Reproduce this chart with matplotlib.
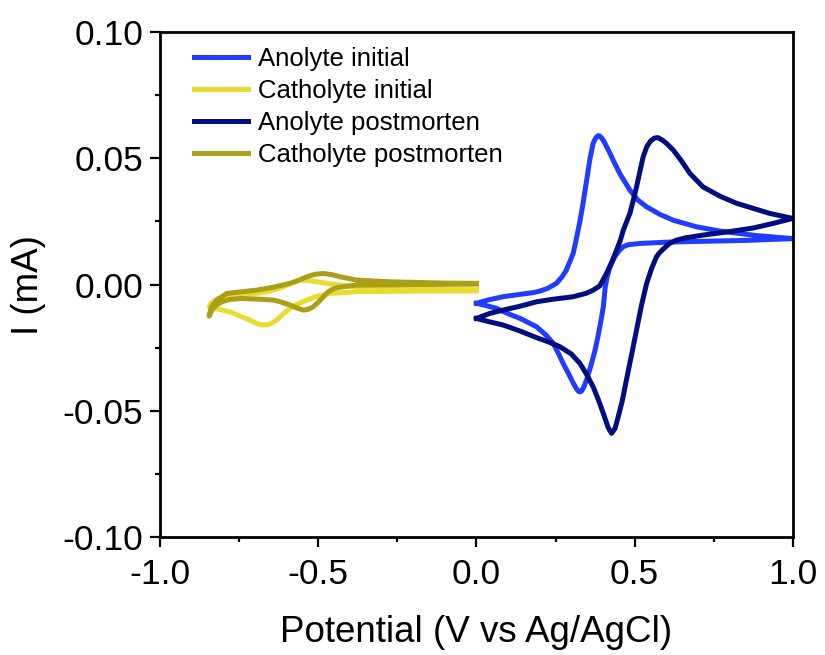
import matplotlib
matplotlib.use('Agg')
import matplotlib.pyplot as plt
from matplotlib.ticker import MultipleLocator

plt.rcParams['font.family'] = ['Liberation Sans', 'DejaVu Sans']

# Anolyte initial (blue): one closed CV loop
an_init_E = [0.0, 0.04, 0.084, 0.13, 0.178, 0.20, 0.225, 0.253, 0.27, 0.284, 0.295, 0.306, 0.317, 0.327,
             0.337, 0.348, 0.359, 0.369, 0.378, 0.385, 0.390, 0.396, 0.404, 0.412, 0.422, 0.437, 0.453,
             0.47, 0.485, 0.51, 0.538, 0.58, 0.622, 0.695, 0.77, 0.88, 1.0,
             0.85, 0.70, 0.60, 0.517, 0.48, 0.464, 0.453, 0.437, 0.422, 0.414, 0.407, 0.401, 0.394,
             0.385, 0.375, 0.362, 0.348, 0.338, 0.331, 0.327, 0.322, 0.315, 0.306, 0.29, 0.274, 0.258,
             0.243, 0.22, 0.19, 0.14, 0.10, 0.063, 0.03, 0.0]
an_init_I = [-0.0074, -0.0060, -0.0048, -0.0040, -0.0032, -0.0026, -0.0015, 0.0005, 0.0030, 0.0057,
             0.0090, 0.0124, 0.0189, 0.0250, 0.0322, 0.0410, 0.0500, 0.0560, 0.0583, 0.0590, 0.0588,
             0.0580, 0.0565, 0.0545, 0.0520, 0.0480, 0.0440, 0.0405, 0.0374, 0.0335, 0.0308, 0.0278,
             0.0255, 0.0229, 0.0212, 0.0195, 0.0182,
             0.0175, 0.0171, 0.0168, 0.0163, 0.0158, 0.0150, 0.0137, 0.0110, 0.0070, 0.0035, -0.0010,
             -0.0088, -0.0140, -0.0200, -0.0260, -0.0320, -0.0378, -0.0410, -0.0423, -0.0425, -0.0422,
             -0.0410, -0.0390, -0.0350, -0.0312, -0.0270, -0.0233, -0.0200, -0.0167, -0.0135, -0.0115,
             -0.0094, -0.0083, -0.0074]

# Catholyte initial (yellow)
ca_init_E = [0.0, -0.2, -0.379, -0.463, -0.50, -0.536, -0.565, -0.589, -0.612, -0.631, -0.645, -0.660,
             -0.674, -0.688, -0.702, -0.716, -0.75, -0.779, -0.81, -0.832, -0.845, -0.838, -0.82, -0.80,
             -0.75, -0.695, -0.65, -0.611, -0.58, -0.558, -0.53, -0.505, -0.431, -0.327, -0.2, 0.0]
ca_init_I = [-0.0025, -0.0026, -0.0028, -0.0035, -0.0045, -0.0061, -0.0077, -0.0094, -0.0117, -0.0140,
             -0.0152, -0.0159, -0.0160, -0.0157, -0.0150, -0.0141, -0.0123, -0.0108, -0.0099, -0.0094,
             -0.0088, -0.0072, -0.0058, -0.0048, -0.0040, -0.0035, -0.0025, -0.0009, 0.0008, 0.0018,
             0.0016, 0.0011, -0.0002, -0.0015, -0.0018, -0.0020]

# Anolyte postmorten (navy)
an_post_E = [0.0, 0.04, 0.084, 0.14, 0.19, 0.242, 0.306, 0.348, 0.369, 0.39, 0.411, 0.428, 0.443, 0.455,
             0.464, 0.475, 0.485, 0.496, 0.506, 0.517, 0.527, 0.538, 0.55, 0.562, 0.574, 0.588, 0.60,
             0.622, 0.648, 0.675, 0.716, 0.77, 0.822, 0.927, 1.0,
             0.93, 0.874, 0.80, 0.716, 0.66, 0.632, 0.61, 0.59, 0.578, 0.569, 0.554, 0.538, 0.522, 0.506,
             0.490, 0.474, 0.461, 0.448, 0.438, 0.427, 0.416, 0.401, 0.385, 0.369, 0.348, 0.327, 0.30,
             0.264, 0.23, 0.19, 0.14, 0.084, 0.04, 0.0]
an_post_I = [-0.0134, -0.0115, -0.0101, -0.0085, -0.0068, -0.0058, -0.0048, -0.0034, -0.0022, -0.0005,
             0.0044, 0.0090, 0.0137, 0.0176, 0.0215, 0.0250, 0.0282, 0.0335, 0.0387, 0.0450, 0.0506,
             0.0545, 0.0568, 0.0580, 0.0582, 0.0572, 0.0560, 0.0533, 0.0490, 0.0440, 0.0387, 0.0350,
             0.0322, 0.0282, 0.0262,
             0.0240, 0.0224, 0.0210, 0.0196, 0.0185, 0.0176, 0.0163, 0.0140, 0.0125, 0.0110, 0.0065,
             0.0005, -0.0080, -0.0180, -0.0280, -0.0378, -0.0460, -0.0524, -0.0570, -0.0589, -0.0565,
             -0.0510, -0.0455, -0.0405, -0.0355, -0.0312, -0.0275, -0.0246, -0.0228, -0.0210, -0.0185,
             -0.0160, -0.0147, -0.0134]

# Catholyte postmorten (olive)
ca_post_E = [0.0, -0.2, -0.379, -0.43, -0.453, -0.47, -0.484, -0.50, -0.516, -0.532, -0.547, -0.565,
             -0.589, -0.62, -0.642, -0.70, -0.747, -0.78, -0.80, -0.82, -0.835, -0.845, -0.838, -0.821,
             -0.789, -0.74, -0.695, -0.64, -0.589, -0.56, -0.536, -0.51, -0.484, -0.455, -0.431, -0.379,
             -0.273, -0.1, 0.0]
ca_post_I = [0.0002, 0.0, -0.0002, -0.0010, -0.0017, -0.0030, -0.0048, -0.0070, -0.0088, -0.0098,
             -0.0101, -0.0094, -0.0081, -0.0068, -0.0061, -0.0057, -0.0055, -0.0059, -0.0066, -0.0079,
             -0.0098, -0.0125, -0.0090, -0.0061, -0.0035, -0.0028, -0.0022, -0.0010, 0.0005, 0.0018,
             0.0031, 0.0041, 0.0044, 0.0039, 0.0031, 0.0018, 0.0011, 0.0006, 0.0005]

labels = ['Anolyte initial', 'Catholyte initial', 'Anolyte postmorten', 'Catholyte postmorten']
colors = ['#203cff', '#e8dc30', '#000e80', '#aa9f16']

fig = plt.figure(figsize=(8.25, 6.55), dpi=100)
ax = fig.add_axes([0.194, 0.180, 0.767, 0.771])

curves = [(an_init_E, an_init_I), (ca_init_E, ca_init_I), (an_post_E, an_post_I), (ca_post_E, ca_post_I)]
for (E, I), lab, c in zip(curves, labels, colors):
    ax.plot(E, I, color=c, lw=3.6, label=lab, solid_joinstyle='round')

ax.set_xlim(-1.0, 1.0)
ax.set_ylim(-0.10, 0.10)
ax.xaxis.set_major_locator(MultipleLocator(0.5))
ax.xaxis.set_minor_locator(MultipleLocator(0.25))
ax.yaxis.set_major_locator(MultipleLocator(0.05))
ax.yaxis.set_minor_locator(MultipleLocator(0.025))
ax.xaxis.set_major_formatter(plt.FormatStrFormatter('%.1f'))
ax.yaxis.set_major_formatter(plt.FormatStrFormatter('%.2f'))

for s in ax.spines.values():
    s.set_linewidth(2.0)
ax.tick_params(which='both', direction='out', width=1.6, labelsize=25.5, top=False, right=False)
ax.tick_params(which='major', length=7, pad=5)
ax.tick_params(axis='x', which='major', pad=8)
ax.tick_params(which='minor', length=3.5)

ax.set_xlabel('Potential (V vs Ag/AgCl)', fontsize=26.5, labelpad=17)
ax.set_ylabel('I (mA)', fontsize=26.5, labelpad=12)

ax.legend(loc='upper left', frameon=False, fontsize=18.5, handlelength=2.1, handletextpad=0.4,
          labelspacing=0.3, borderaxespad=0.0, bbox_to_anchor=(0.037, 0.99))

fig.savefig('out.png', dpi=100)
